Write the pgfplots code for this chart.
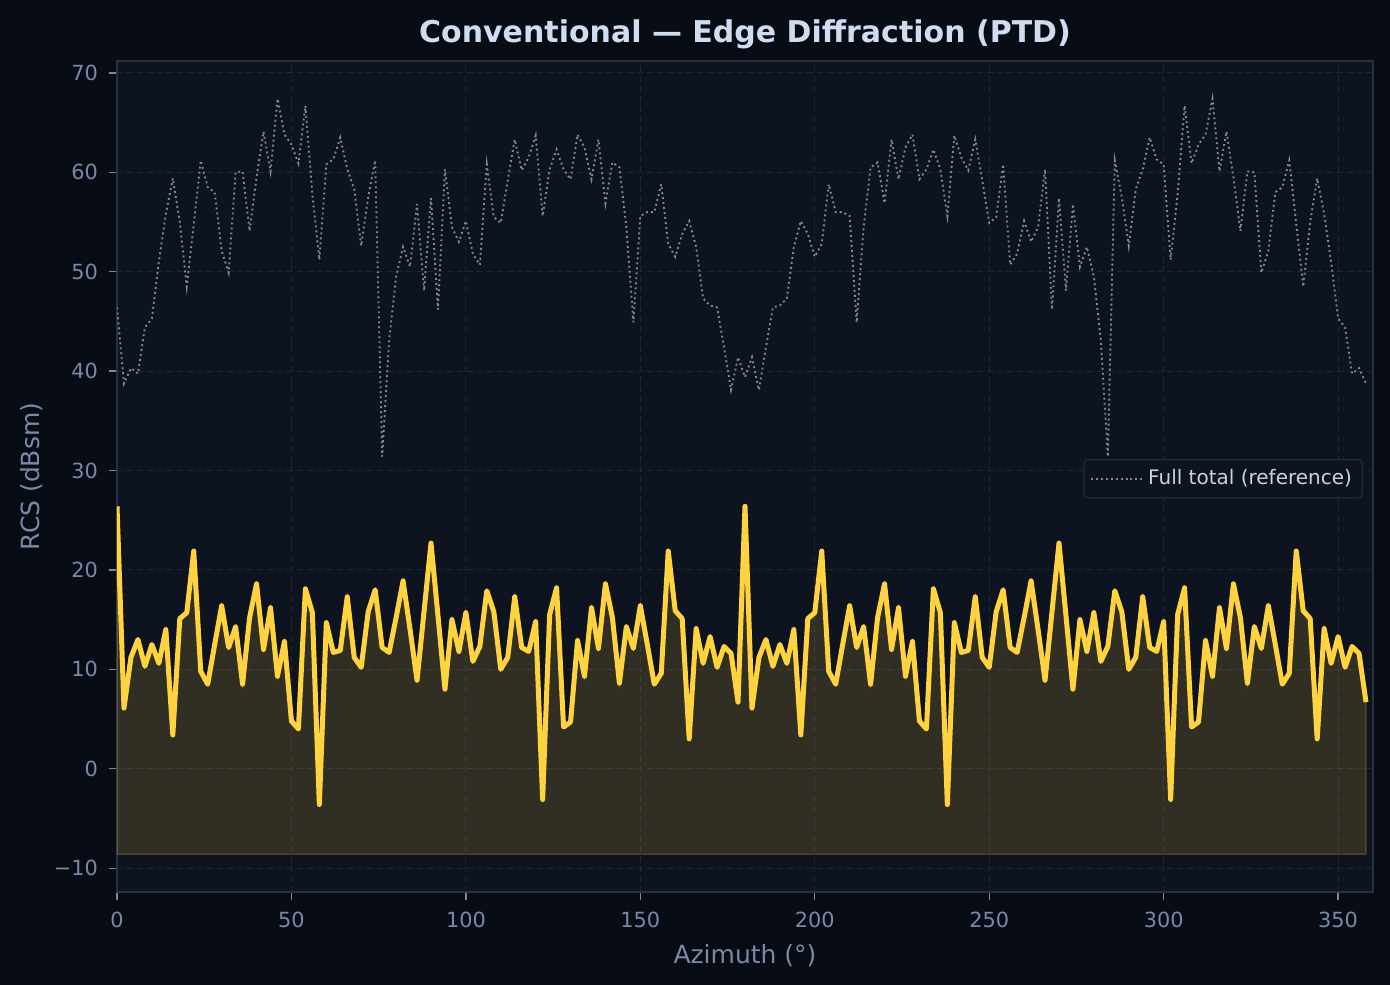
\documentclass[border=0pt]{standalone}
\usepackage{pgfplots}
\pgfplotsset{compat=1.18}
\usepackage{fontspec}
\setmainfont{DejaVu Sans}
\definecolor{figbg}{HTML}{080C14}
\definecolor{axbg}{HTML}{0E1320}
\definecolor{gridc}{HTML}{1E2636}
\definecolor{spine}{HTML}{283041}
\definecolor{tickc}{HTML}{7A89A6}
\definecolor{titlec}{HTML}{D0DCF0}
\definecolor{ylw}{HTML}{FFD23F}
\definecolor{refgray}{HTML}{858A95}
\definecolor{legtext}{HTML}{C8D2E2}
\definecolor{legbg}{HTML}{0E1320}
\definecolor{legedge}{HTML}{232C3C}

\pgfplotstableread{
x y
0 26.4
2 6.1
4 11.2
6 13.0
8 10.3
10 12.5
12 10.6
14 14.0
16 3.4
18 15.1
20 15.7
22 21.9
24 9.8
26 8.5
28 12.5
30 16.4
32 12.2
34 14.3
36 8.5
38 15.2
40 18.6
42 12.0
44 16.2
46 9.3
48 12.8
50 4.8
52 4.0
54 18.1
56 15.7
58 -3.6
60 14.7
62 11.7
64 11.9
66 17.3
68 11.2
70 10.2
72 15.8
74 18.0
76 12.2
78 11.7
80 15.2
82 18.9
84 14.0
86 8.9
88 15.8
90 22.7
92 15.4
94 8.0
96 15.0
98 11.8
100 15.7
102 10.8
104 12.3
106 17.9
108 15.8
110 10.0
112 11.2
114 17.3
116 12.2
118 11.8
120 14.8
122 -3.1
124 15.5
126 18.2
128 4.2
130 4.7
132 12.9
134 9.3
136 16.2
138 12.1
140 18.6
142 15.2
144 8.6
146 14.3
148 12.1
150 16.4
152 12.5
154 8.5
156 9.6
158 21.9
160 15.9
162 15.1
164 3.0
166 14.1
168 10.6
170 13.3
172 10.2
174 12.3
176 11.6
178 6.7
180 26.4
182 6.1
184 11.2
186 13.0
188 10.3
190 12.5
192 10.6
194 14.0
196 3.4
198 15.1
200 15.7
202 21.9
204 9.8
206 8.5
208 12.5
210 16.4
212 12.2
214 14.3
216 8.5
218 15.2
220 18.6
222 12.0
224 16.2
226 9.3
228 12.8
230 4.8
232 4.0
234 18.1
236 15.7
238 -3.6
240 14.7
242 11.7
244 11.9
246 17.3
248 11.2
250 10.2
252 15.8
254 18.0
256 12.2
258 11.7
260 15.2
262 18.9
264 14.0
266 8.9
268 15.8
270 22.7
272 15.4
274 8.0
276 15.0
278 11.8
280 15.7
282 10.8
284 12.3
286 17.9
288 15.8
290 10.0
292 11.2
294 17.3
296 12.2
298 11.8
300 14.8
302 -3.1
304 15.5
306 18.2
308 4.2
310 4.7
312 12.9
314 9.3
316 16.2
318 12.1
320 18.6
322 15.2
324 8.6
326 14.3
328 12.1
330 16.4
332 12.5
334 8.5
336 9.6
338 21.9
340 15.9
342 15.1
344 3.0
346 14.1
348 10.6
350 13.3
352 10.2
354 12.3
356 11.6
358 6.7
}\edgetable

\pgfplotstableread{
x y
0 46.4
2 38.75
4 40.3
6 39.75
8 44.4
10 45.3
12 51.0
14 55.8
16 59.4
18 55.0
20 48.5
22 54.8
24 61.2
26 58.5
28 58.0
30 52.1
32 49.9
34 60.0
36 60.1
38 54.1
40 59.5
42 64.1
44 60.1
46 67.4
48 63.8
50 62.8
52 60.9
54 66.7
56 57.8
58 51.2
60 60.8
62 61.3
64 63.5
66 60.3
68 58.3
70 52.6
72 57.5
74 61.2
76 31.4
78 43.1
80 49.5
82 52.5
84 50.5
86 56.8
88 48.1
90 57.4
92 46.2
94 60.3
96 54.5
98 53.0
100 55.1
102 51.8
104 50.7
106 60.8
108 55.5
110 54.9
112 59.2
114 63.3
116 60.2
118 61.5
120 63.7
122 55.6
124 60.3
126 62.3
128 60.3
130 59.3
132 63.8
134 62.5
136 59.3
138 63.3
140 56.9
142 61.0
144 60.5
146 54.5
148 44.9
150 55.6
152 56.0
154 56.0
156 58.8
158 52.8
160 51.5
162 53.8
164 55.1
166 52.5
168 47.3
170 46.6
172 46.4
174 42.4
176 38.1
178 41.4
180 39.4
182 41.4
184 38.1
186 42.4
188 46.4
190 46.6
192 47.3
194 52.5
196 55.1
198 53.8
200 51.5
202 52.8
204 58.8
206 56.0
208 56.0
210 55.6
212 44.9
214 54.5
216 60.5
218 61.0
220 56.9
222 63.3
224 59.3
226 62.5
228 63.8
230 59.3
232 60.3
234 62.3
236 60.3
238 55.6
240 63.7
242 61.5
244 60.2
246 63.3
248 59.2
250 54.9
252 55.5
254 60.8
256 50.7
258 51.8
260 55.1
262 53.0
264 54.5
266 60.3
268 46.2
270 57.4
272 48.1
274 56.8
276 50.5
278 52.5
280 49.5
282 43.1
284 31.4
286 61.2
288 57.5
290 52.6
292 58.3
294 60.3
296 63.5
298 61.3
300 60.8
302 51.2
304 57.8
306 66.7
308 60.9
310 62.8
312 63.8
314 67.4
316 60.1
318 64.1
320 59.5
322 54.1
324 60.1
326 60.0
328 49.9
330 52.1
332 58.0
334 58.5
336 61.2
338 54.8
340 48.5
342 55.0
344 59.4
346 55.8
348 51.0
350 45.3
352 44.4
354 39.75
356 40.3
358 38.75
}\fulltable

\begin{document}
\begin{tikzpicture}
\fill[figbg] (-56.16pt,-44.64pt) rectangle (611.04pt,428.16pt);
\begin{axis}[
  name=ax,
  at={(0,0)}, anchor=south west,
  scale only axis, width=602.88pt, height=398.88pt,
  xmin=0, xmax=360, ymin=-12.4, ymax=71.2,
  axis background/.style={fill=axbg},
  axis line style={spine, line width=0.5pt},
  xtick={0,50,100,150,200,250,300,350},
  xticklabels={0,50,100,150,200,250,300,350},
  ytick={-10,0,10,20,30,40,50,60,70},
  yticklabels={−10,0,10,20,30,40,50,60,70},
  xtick pos=left, ytick pos=left,
  tick align=outside, major tick length=3.7pt,
  tick style={tickc, line width=0.6pt},
  grid=major,
  major grid style={gridc, line width=0.5pt, dash pattern=on 2.9pt off 1.9pt},
  ticklabel style={font=\fontsize{10}{12}\selectfont, text=tickc},
  xticklabel style={anchor=north, inner sep=0pt, yshift=-5.8pt},
  yticklabel style={anchor=east, inner sep=0pt, xshift=-5.3pt},
  legend style={at={(rel axis cs:0.992,0.521)}, anchor=north east,
    fill=legbg, draw=legedge, line width=0.6pt, rounded corners=2pt,
    text=legtext, font=\fontsize{9.6}{11}\selectfont,
    inner xsep=3pt, inner ysep=2.8pt},
  legend cell align=left,
  legend image code/.code={\draw[#1] (0pt,0pt) -- (18.7pt,0pt); \path (18.7pt,0pt) -- (24.9pt,0pt);},
]
\addplot[refgray, line width=0.9pt, dash pattern=on 0.9pt off 1.5pt] table[x=x,y=y] {\fulltable};
\addlegendentry{Full total (reference)}
\addplot[forget plot, fill=ylw, fill opacity=0.15, draw=ylw, draw opacity=0.25, line width=0.6pt]
  table[x=x,y=y] {\edgetable} -- (axis cs:358,-8.6) -- (axis cs:0,-8.6) -- cycle;
\addplot[forget plot, ylw, line width=2.4pt, line join=round] table[x=x,y=y] {\edgetable};
\end{axis}
\node[anchor=base, text=titlec, font=\bfseries\fontsize{14.4}{17}\selectfont] at ([yshift=9.1pt]ax.north) {Conventional — Edge Diffraction (PTD)};
\node[anchor=base, text=tickc, font=\fontsize{12}{14}\selectfont] at ([yshift=-34.1pt]ax.south) {Azimuth (°)};
\node[anchor=base, rotate=90, text=tickc, font=\fontsize{12}{14}\selectfont] at ([xshift=-37.4pt]ax.west) {RCS (dBsm)};
\pgfresetboundingbox
\useasboundingbox (-56.16pt,-44.64pt) rectangle (611.04pt,428.16pt);
\end{tikzpicture}
\end{document}
